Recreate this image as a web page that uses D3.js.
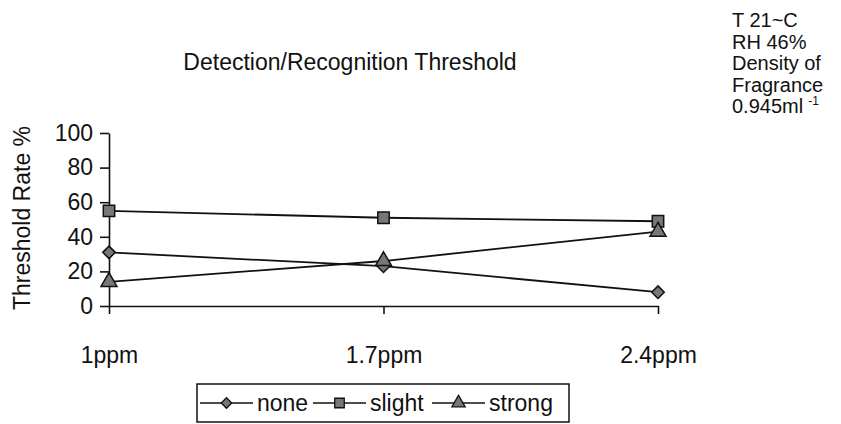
<!DOCTYPE html>
<html lang="en">
<head>
    <meta charset="UTF-8">
    <title>Detection/Recognition Threshold</title>
    <script src="https://cdn.jsdelivr.net/npm/d3@7"></script>
    <style type="text/css">
        body { margin: 0; background: #fff; }
        text { font-family: Arial, "Liberation Sans", sans-serif; fill: #111; }
        .axis path, .axis line { fill: none; stroke: #111; stroke-width: 1.6px; }
    </style>
</head>
<body>
<script>
    // data
    const categories = ["1ppm", "1.7ppm", "2.4ppm"];
    const noneValues = [31, 23, 8];
    const slightValues = [55, 51, 49];
    const strongValues = [14, 26, 43];
    const yTicks = [0, 20, 40, 60, 80, 100];
    const seriesNames = ["none", "slight", "strong"];
    const notes = ["T 21~C", "RH 46%", "Density of", "Fragrance", "0.945ml"];

    // square rotated 45 degrees, like the reference diamond
    const diamond = d3.symbolDiamond2 || d3.symbolDiamond;

    const series = [
        { name: seriesNames[0], values: noneValues, symbol: diamond, size: 100 },
        { name: seriesNames[1], values: slightValues, symbol: d3.symbolSquare, size: 130 },
        { name: seriesNames[2], values: strongValues, symbol: d3.symbolTriangle, size: 110 }
    ];

    let w = 841;
    let h = 424;
    let svg = d3.select("body").append("svg")
        .attr("width", w)
        .attr("height", h);

    let xScale = d3.scalePoint()
        .domain(categories)
        .range([109, 658]);

    let yScale = d3.scaleLinear()
        .domain([0, 100])
        .range([306, 133]);

    // y axis
    svg.append("g")
        .attr("class", "axis")
        .attr("transform", "translate(109,0)")
        .call(d3.axisLeft(yScale).tickValues(yTicks).tickSize(9).tickSizeOuter(0).tickPadding(7))
        .call(g => g.selectAll("text").style("font-size", "23px").attr("fill", "#111"));

    // x axis
    svg.append("g")
        .attr("class", "axis")
        .attr("transform", "translate(0,306)")
        .call(d3.axisBottom(xScale).tickSize(8).tickSizeOuter(0).tickPadding(33))
        .call(g => g.selectAll("text").style("font-size", "23px").attr("fill", "#111"));

    // lines
    let line = d3.line()
        .x((d, i) => xScale(categories[i]))
        .y(d => yScale(d));

    series.forEach(s => {
        svg.append("path")
            .attr("d", line(s.values))
            .attr("fill", "none")
            .attr("stroke", "#111")
            .attr("stroke-width", 1.8);
    });

    series.forEach(s => {
        svg.selectAll(null)
            .data(s.values)
            .enter()
            .append("path")
            .attr("d", d3.symbol().type(s.symbol).size(s.size))
            .attr("transform", (d, i) => "translate(" + xScale(categories[i]) + "," + yScale(d) + ")")
            .attr("fill", "#777")
            .attr("stroke", "#111")
            .attr("stroke-width", 1.5);
    });

    // title
    svg.append("text")
        .attr("x", 350)
        .attr("y", 70)
        .attr("text-anchor", "middle")
        .style("font-size", "23px")
        .text("Detection/Recognition Threshold");

    // y axis title
    svg.append("text")
        .attr("transform", "translate(30,218) rotate(-90)")
        .attr("text-anchor", "middle")
        .style("font-size", "23px")
        .text("Threshold Rate %");

    // notes top right
    notes.forEach((t, i) => {
        let txt = svg.append("text")
            .attr("x", 732)
            .attr("y", 27 + i * 21.5)
            .style("font-size", "20px")
            .text(t);
        if (i === notes.length - 1) {
            txt.append("tspan")
                .attr("dx", 5)
                .attr("dy", -8)
                .style("font-size", "12px")
                .text("-1");
        }
    });

    // legend
    let legend = svg.append("g");
    legend.append("rect")
        .attr("x", 197)
        .attr("y", 384)
        .attr("width", 372)
        .attr("height", 38)
        .attr("fill", "#fff")
        .attr("stroke", "#111")
        .attr("stroke-width", 1.5);

    let legendX = [200, 313, 432];
    series.forEach((s, i) => {
        let g = legend.append("g").attr("transform", "translate(" + legendX[i] + ",403)");
        g.append("line")
            .attr("x1", 0).attr("x2", 53)
            .attr("stroke", "#111").attr("stroke-width", 1.6);
        g.append("path")
            .attr("d", d3.symbol().type(s.symbol).size(s.size * 0.7))
            .attr("transform", "translate(26.5,0)")
            .attr("fill", "#777")
            .attr("stroke", "#111")
            .attr("stroke-width", 1.3);
        g.append("text")
            .attr("x", 57)
            .attr("y", 8)
            .style("font-size", "23px")
            .text(s.name);
    });
</script>
</body>
</html>
